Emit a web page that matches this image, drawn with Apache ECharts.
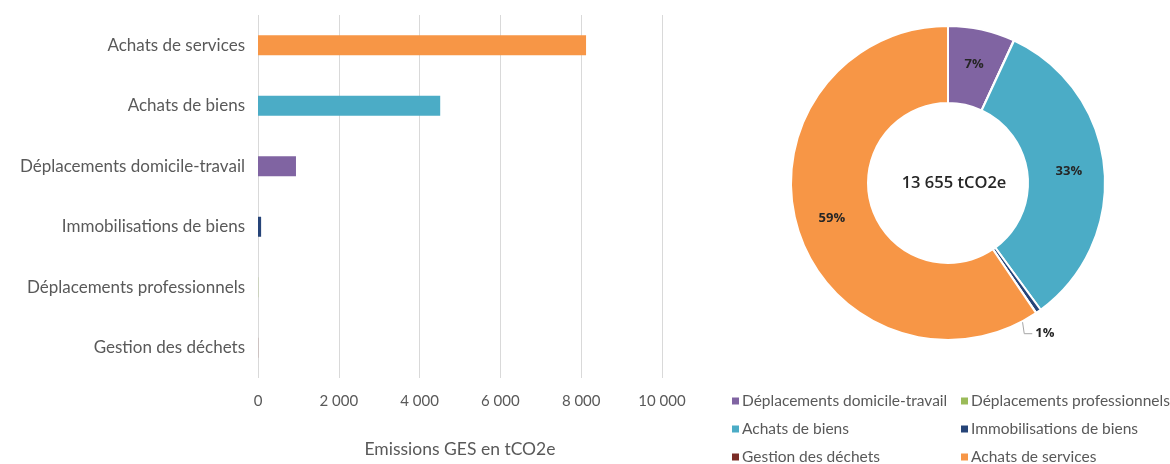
<!DOCTYPE html>
<html>
<head>
<meta charset="utf-8">
<script src="https://cdn.jsdelivr.net/npm/echarts@6/dist/echarts.min.js"></script>
<style>
  html, body { margin: 0; padding: 0; background: #fff; }
  #chart { width: 1170px; height: 464px; }
</style>
</head>
<body>
<div id="chart"></div>
<script>
// Emissions by post, in tCO2e (bar chart order, top to bottom)
const categories = [
  'Achats de services',
  'Achats de biens',
  'Déplacements domicile-travail',
  'Immobilisations de biens',
  'Déplacements professionnels',
  'Gestion des déchets'
];
const emissions = [8120, 4510, 940, 77, 5, 3];

// Order of the slices in the donut and of the legend entries
const pieOrder = [
  'Déplacements domicile-travail',
  'Déplacements professionnels',
  'Achats de biens',
  'Immobilisations de biens',
  'Gestion des déchets',
  'Achats de services'
];

const xTicks = [0, 2000, 4000, 6000, 8000, 10000];
const totalLabel = '13 655 tCO2e';

const palette = {
  'Déplacements domicile-travail': '#8064A2',
  'Déplacements professionnels': '#9BBB59',
  'Achats de biens': '#4BACC6',
  'Immobilisations de biens': '#264478',
  'Gestion des déchets': '#7B2C26',
  'Achats de services': '#F79646'
};

const FONT = 'Lato, "Open Sans", sans-serif';
const GREY = '#595959';

// Donut geometry
const CX = 948, CY = 183, R_IN = 80, R_OUT = 157;

const valueOf = name => emissions[categories.indexOf(name)];
const fmtThousands = v => String(v).replace(/\B(?=(\d{3})+(?!\d))/g, ' ');

// The small fixed-assets slice gets its label outside with a leader line
const outsideName = 'Immobilisations de biens';

const pieData = pieOrder.map(name => {
  const item = { name, value: valueOf(name), itemStyle: { color: palette[name] } };
  if (name === outsideName) {
    item.label = { position: 'outside', color: '#262626' };
    item.labelLine = { show: true, length: 20, length2: 6, lineStyle: { color: '#a6a6a6', width: 1 } };
  }
  return item;
});

// Leader line starting from the middle of the ring, dropping down, then a short run to the label
function leaderLayout(params) {
  if (pieOrder[params.dataIndex] !== outsideName || !params.labelLinePoints) return {};
  const p = params.labelLinePoints[0];
  const k = ((R_IN + R_OUT) / 2) / R_OUT;
  const sx = CX + (p[0] - CX) * k;
  const sy = CY + (p[1] - CY) * k;
  const yc = params.labelRect.y + params.labelRect.height / 2 + 6;
  const lx = sx + 19;
  return {
    x: lx,
    y: yc,
    align: 'left',
    verticalAlign: 'middle',
    labelLinePoints: [[sx, sy], [sx + 8, yc], [lx - 3, yc]]
  };
}

const legendCommon = {
  orient: 'vertical',
  top: 388,
  height: 120,
  itemGap: 12,
  itemWidth: 9,
  itemHeight: 9,
  icon: 'rect',
  textStyle: { color: GREY, fontSize: 15.5, fontFamily: FONT, padding: [0, 0, 0, -3] }
};

const chart = echarts.init(document.getElementById('chart'), null, { renderer: 'canvas' });

chart.setOption({
  animation: false,
  textStyle: { fontFamily: FONT },
  grid: { left: 258, right: 508, top: 15, bottom: 86, containLabel: false },
  xAxis: {
    type: 'value',
    min: xTicks[0],
    max: xTicks[xTicks.length - 1],
    interval: xTicks[1] - xTicks[0],
    axisLine: { show: false },
    axisTick: { show: false },
    splitLine: { lineStyle: { color: '#d9d9d9', width: 1 } },
    axisLabel: { color: GREY, fontSize: 15, margin: 16, fontFamily: FONT, formatter: fmtThousands },
    name: 'Emissions GES en tCO2e',
    nameLocation: 'middle',
    nameGap: 62,
    nameTextStyle: { color: GREY, fontSize: 17.5, fontFamily: FONT }
  },
  yAxis: {
    type: 'category',
    data: categories,
    inverse: true,
    axisLine: { show: false },
    axisTick: { show: false },
    axisLabel: { color: GREY, fontSize: 17, margin: 13, fontFamily: FONT }
  },
  legend: [
    Object.assign({ data: [pieOrder[0], pieOrder[2], pieOrder[4]], left: 725 }, legendCommon),
    Object.assign({ data: [pieOrder[1], pieOrder[3], pieOrder[5]], left: 954 }, legendCommon)
  ],
  graphic: [{
    type: 'text',
    x: CX + 6,
    y: CY,
    style: {
      text: totalLabel,
      fill: '#262626',
      font: '600 16.5px "Open Sans", sans-serif',
      align: 'center',
      verticalAlign: 'middle'
    }
  }],
  series: [
    {
      type: 'bar',
      data: categories.map((c, i) => ({ value: emissions[i], itemStyle: { color: palette[c] } })),
      barWidth: 20,
      silent: true
    },
    {
      type: 'pie',
      center: [CX, CY],
      radius: [R_IN, R_OUT],
      startAngle: 90,
      clockwise: true,
      avoidLabelOverlap: false,
      itemStyle: { borderColor: '#ffffff', borderWidth: 2 },
      label: {
        show: true,
        position: 'inside',
        fontSize: 13,
        fontWeight: 'bold',
        color: '#262626',
        fontFamily: '"Open Sans", sans-serif',
        formatter: p => {
          const pct = Math.round(p.percent);
          return pct >= 1 ? pct + '%' : '';
        }
      },
      labelLayout: leaderLayout,
      labelLine: { show: false },
      data: pieData
    }
  ]
});
</script>
</body>
</html>
